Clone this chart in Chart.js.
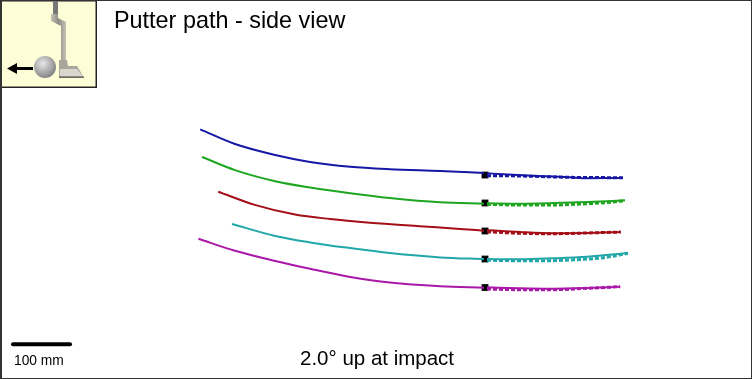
<!DOCTYPE html>
<html><head><meta charset="utf-8">
<style>
html,body{margin:0;padding:0;background:#fff}
#wrap{position:relative;width:752px;height:379px;overflow:hidden;font-family:"Liberation Sans",Arial,sans-serif;color:#000}
#c{position:absolute;left:0;top:0}
.t{position:absolute;white-space:nowrap;line-height:1}
#frame{position:absolute;left:0;top:0;width:752px;height:379px;box-sizing:border-box;border:1px solid #333;border-left-width:2px;pointer-events:none}
svg{position:absolute;left:0;top:0}
</style></head><body>
<div id="wrap">
<canvas id="c" width="752" height="379"></canvas>
<svg width="97" height="88" viewBox="0 0 97 88">
<defs>
<radialGradient id="b" cx="0.4" cy="0.35" r="0.7"><stop offset="0" stop-color="#e8e8e8"/><stop offset="1" stop-color="#7c7c7c"/></radialGradient>
<linearGradient id="s" x1="0" x2="1" y1="0" y2="0"><stop offset="0" stop-color="#c5c3b8"/><stop offset="0.5" stop-color="#8e8c84"/><stop offset="1" stop-color="#c5c3b8"/></linearGradient>
</defs>
<rect x="0.750" y="0.750" width="95.500" height="86.500" fill="#fdfdd8" stroke="#222" stroke-width="1.500"/>
<rect x="53" y="1" width="5" height="13" fill="#777"/>
<path d="M51 14h7v4l8 4v39h-5V26l-10-5z" fill="url(#s)"/>
<path d="M59 60h8l1 6h9l7 11.500H59z" fill="#a9a79c"/>
<path d="M60 69h17l6 7H60z" fill="#d9d7cd"/>
<rect x="59" y="76.500" width="25" height="1.500" fill="#6e6c64"/>
<circle cx="45" cy="67" r="11" fill="url(#b)"/>
<rect x="14" y="67" width="19" height="3" fill="#000"/>
<path d="M7 68.500l10-5.500v11z" fill="#000"/>
</svg>
<div class="t" style="left:114px;top:9px;font-size:23.400px">Putter path - side view</div>
<div class="t" style="left:14px;top:354px;font-size:13.800px">100 mm</div>
<div class="t" style="left:300px;top:348px;font-size:20.500px">2.0° up at impact</div>
<div id="frame"></div>
</div>
<script src="https://cdn.jsdelivr.net/npm/chart.js@4"></script>
<script>
// distances in mm: x from impact point, y above the lowest impact point
const blueX=[-473,-415,-348,-290,-223,-157,-73,0];
const blueY=[264.5,240,221.7,210,202,198,195,191.7];
const blueFollowX=[5,32,88,143,172,227];
const blueFollowY=[191.2,189.5,186.7,184.5,183,183.3];
const blueDashX=[5,60,143,198,232];
const blueDashY=[187.2,186.7,184.5,184,183.8];

const greenX=[-470,-415,-348,-290,-223,-157,-73,0];
const greenY=[218.3,196.5,178,167.5,158,150,142.8,140.5];
const greenFollowX=[5,60,115,172,235];
const greenFollowY=[141.2,140.5,141.5,143.3,146.2];
const greenDashX=[5,60,115,172,210,235];
const greenDashY=[139.5,138.3,138.3,140.5,142.8,145.5];

const redX=[-443,-382,-315,-257,-190,-107,-40,0];
const redY=[160.5,138.5,122.5,115,108.8,103,98.5,95.5];
const redFollowX=[5,60,115,172,228];
const redFollowY=[96.7,93.3,91.2,91.7,93.3];
const redDashX=[5,60,115,172,228];
const redDashY=[93.8,91.2,90.5,91.7,93.3];

const tealX=[-420,-348,-290,-223,-157,-73,0];
const tealY=[106.7,86.7,76,66.5,58.3,51,48.3];
const tealFollowX=[5,60,115,172,240];
const tealFollowY=[48.3,47.8,49.5,52.2,58.3];
const tealDashX=[5,60,105,143,198,240];
const tealDashY=[46.2,45.5,45.5,46.7,50.5,57.8];

const magentaX=[-476,-415,-348,-290,-223,-157,-73,0];
const magentaY=[82.2,62,45,32,18.5,9,2.8,0.5];
const magentaFollowX=[5,60,115,172,227];
const magentaFollowY=[1.2,-0.5,-1.2,0,2.2];
const magentaDashX=[5,60,115,172,227];
const magentaDashY=[-1.7,-2.8,-2.8,-0.5,2.2];

const impactX=[1.7,1.7,1.7,1.7,1.7];
const impactY=[188.3,141.7,95,48.3,0.8];
const scaleBarX=[-785,-690];
const scaleBarY=[-93.8,-93.8];

const colors={blue:'#1717a6',green:'#1fa620',red:'#a50e16',teal:'#21a7a8',magenta:'#a918a8'};
const pts=(xs,ys)=>xs.map((x,i)=>({x,y:ys[i]}));
const line=(xs,ys,color,dash)=>({data:pts(xs,ys),borderColor:color,backgroundColor:color,borderWidth:dash?3:2,
  borderDash:dash?[4,2]:[],pointRadius:0,cubicInterpolationMode:'monotone',showLine:true,fill:false,borderCapStyle:'butt'});

const datasets=[
 line(blueX,blueY,colors.blue),line(blueFollowX,blueFollowY,colors.blue),line(blueDashX,blueDashY,colors.blue,true),
 line(greenX,greenY,colors.green),line(greenFollowX,greenFollowY,colors.green),line(greenDashX,greenDashY,colors.green,true),
 line(redX,redY,colors.red),line(redFollowX,redFollowY,colors.red),line(redDashX,redDashY,colors.red,true),
 line(tealX,tealY,colors.teal),line(tealFollowX,tealFollowY,colors.teal),line(tealDashX,tealDashY,colors.teal,true),
 line(magentaX,magentaY,colors.magenta),line(magentaFollowX,magentaFollowY,colors.magenta),line(magentaDashX,magentaDashY,colors.magenta,true),
 {data:pts(impactX,impactY),showLine:false,pointStyle:'rect',pointRadius:4.8,pointBackgroundColor:'#000',pointBorderWidth:0},
 {data:pts(scaleBarX,scaleBarY),showLine:true,borderColor:'#000',borderWidth:4,borderCapStyle:'round',pointRadius:0,tension:0}
];

new Chart(document.getElementById('c'),{
 type:'scatter',
 data:{datasets},
 options:{responsive:false,animation:false,
  layout:{padding:0,autoPadding:false},
  plugins:{legend:{display:false},tooltip:{enabled:false},title:{display:false}},
  scales:{
   x:{type:'linear',display:false,min:-806.67,max:446.67},
   y:{type:'linear',display:false,min:-151.67,max:480}
  }}
});
</script>
</body></html>
